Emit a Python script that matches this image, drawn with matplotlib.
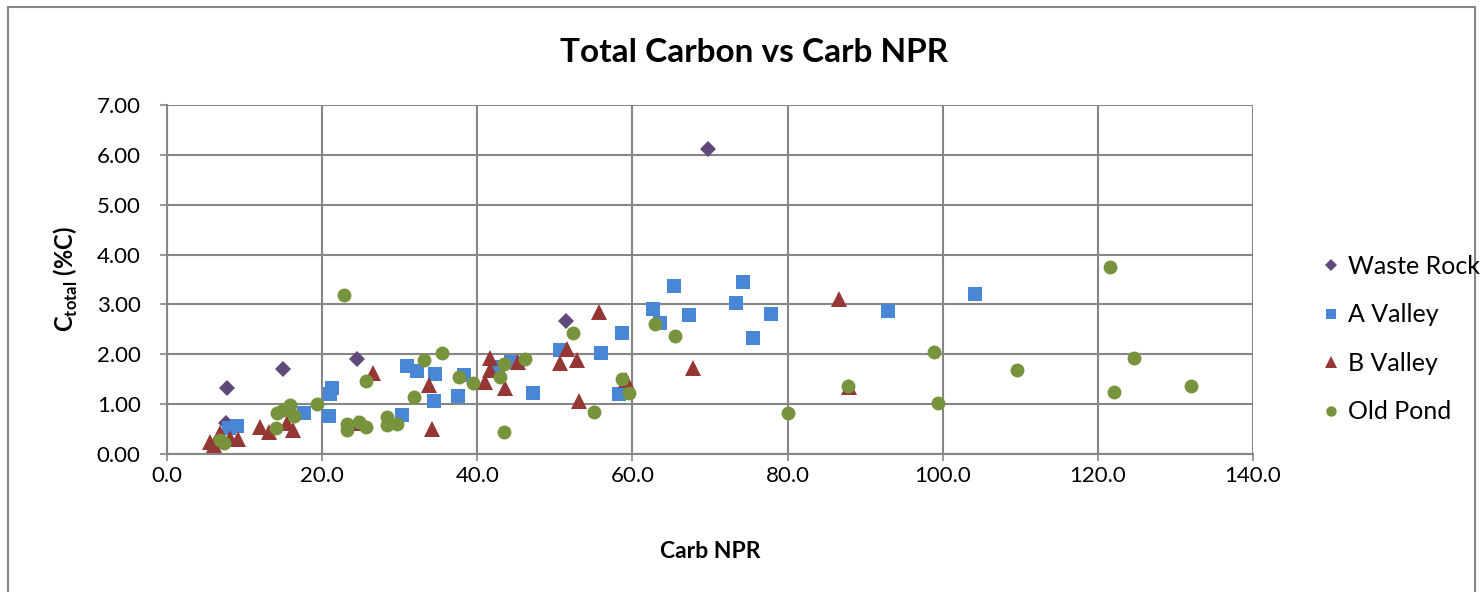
import matplotlib
matplotlib.use("Agg")
import matplotlib.pyplot as plt
from matplotlib.patches import Rectangle

plt.rcParams['font.family'] = ['Lato', 'DejaVu Sans']
plt.rcParams['mathtext.fontset'] = 'custom'
plt.rcParams['mathtext.bf'] = 'Lato:bold'
plt.rcParams['mathtext.rm'] = 'Lato'

# Waste Rock
wr_x = [7.6, 7.7, 15.0, 24.5, 51.4, 69.7]
wr_y = [0.62, 1.32, 1.71, 1.91, 2.66, 6.12]

# A Valley
av_x = [8.0, 9.0, 17.7, 20.9, 21.0, 21.3, 30.3, 30.9, 32.2, 34.4, 34.5, 37.5,
        38.3, 42.7, 44.4, 47.2, 50.6, 55.9, 58.3, 58.6, 62.7, 63.6, 65.3, 67.3,
        73.3, 74.3, 75.5, 77.8, 93.0, 104.2]
av_y = [0.52, 0.57, 0.83, 0.76, 1.21, 1.32, 0.78, 1.76, 1.66, 1.07, 1.61, 1.16,
        1.58, 1.75, 1.85, 1.22, 2.09, 2.02, 1.20, 2.42, 2.90, 2.62, 3.37, 2.79,
        3.02, 3.44, 2.33, 2.80, 2.87, 3.21]

# B Valley
bv_x = [5.5, 6.0, 6.8, 8.1, 9.2, 12.0, 13.1, 15.5, 16.3, 24.5, 26.6, 33.8,
        34.1, 41.0, 41.6, 41.7, 43.6, 45.3, 50.7, 51.6, 52.9, 53.1, 55.7, 59.2,
        67.8, 86.6, 87.9]
bv_y = [0.24, 0.19, 0.43, 0.33, 0.31, 0.55, 0.45, 0.63, 0.48, 0.62, 1.62, 1.38,
        0.51, 1.45, 1.68, 1.92, 1.32, 1.85, 1.82, 2.10, 1.88, 1.07, 2.84, 1.48,
        1.72, 3.10, 1.34]

# Old Pond
op_x = [6.8, 7.3, 14.1, 14.2, 15.0, 15.8, 16.4, 19.4, 22.8, 23.2, 23.2, 24.7,
        25.6, 25.7, 28.3, 28.3, 29.7, 31.9, 33.1, 35.5, 37.6, 39.5, 42.9, 43.5,
        43.5, 46.2, 52.4, 55.0, 58.6, 59.6, 62.9, 65.5, 80.0, 87.8, 98.9, 99.4,
        109.6, 121.6, 122.1, 124.7, 132.0]
op_y = [0.28, 0.23, 0.52, 0.82, 0.88, 0.98, 0.77, 1.01, 3.19, 0.48, 0.61, 0.65,
        1.46, 0.54, 0.74, 0.59, 0.61, 1.15, 1.89, 2.02, 1.55, 1.43, 1.55, 1.80,
        0.45, 1.91, 2.43, 0.85, 1.50, 1.23, 2.60, 2.37, 0.82, 1.36, 2.04, 1.02,
        1.69, 3.75, 1.25, 1.92, 1.36]

W, H = 1483, 592
fig = plt.figure(figsize=(W / 100, H / 100), dpi=100)
ax = fig.add_axes([167 / W, 1 - 454 / H, (1253 - 167) / W, (454 - 105) / H])

grid_c = '#868686'
ms = 10
ax.plot(wr_x, wr_y, 'D', color='#604A7B', ms=ms * 0.85, mew=0, label='Waste Rock', zorder=3)
ax.plot(av_x, av_y, 's', color='#4A86D6', ms=ms * 0.95, mew=0, label='A Valley', zorder=3)
ax.plot(bv_x, bv_y, '^', color='#953735', ms=ms * 1.1, mew=0, label='B Valley', zorder=3)
ax.plot(op_x, op_y, 'o', color='#77933C', ms=ms, mew=0, label='Old Pond', zorder=3)

ax.set_xlim(0, 140)
ax.set_ylim(0, 7)
ax.set_xticks(range(0, 141, 20))
ax.set_yticks(range(0, 8))
ax.set_xticklabels([f'{v:.1f}' for v in range(0, 141, 20)])
ax.set_yticklabels([f'{v:.2f}' for v in range(0, 8)])
ax.grid(True, color=grid_c, lw=1.5)
ax.set_axisbelow(True)
for s in ax.spines.values():
    s.set_visible(False)
ax.spines['left'].set_visible(True)
ax.spines['bottom'].set_visible(True)
ax.spines['left'].set_color(grid_c)
ax.spines['bottom'].set_color(grid_c)
ax.spines['left'].set_linewidth(1.5)
ax.spines['bottom'].set_linewidth(1.5)
ax.tick_params(axis='both', colors=grid_c, labelcolor='black', labelsize=16,
               direction='out', length=5, width=1.2)
ax.tick_params(axis='x', pad=4)
ax.tick_params(axis='y', pad=14)

# chart title is centred over the whole chart area, not the plot area
fig.text(754 / W, 1 - 52 / H, 'Total Carbon vs Carb NPR', fontsize=24,
         fontweight='bold', ha='center', va='center')
ax.set_xlabel('Carb NPR', fontsize=16.5, fontweight='bold', labelpad=39)
ax.set_ylabel(r'C$_\mathbf{total}$ (%C)', fontsize=17, fontweight='bold', labelpad=12)

fig.legend(loc='center left', bbox_to_anchor=(1301 / W, 1 - 339 / H), frameon=False,
           fontsize=18, markerscale=0.75, handlelength=0.6, handletextpad=0.4,
           labelspacing=1.02)

fig.patches.append(Rectangle((8 / W, -0.05), (1475 - 8) / W, 1.05 - 7 / H,
                             transform=fig.transFigure, fill=False,
                             edgecolor='#868686', lw=1.5))

fig.savefig('out.png', dpi=100)
